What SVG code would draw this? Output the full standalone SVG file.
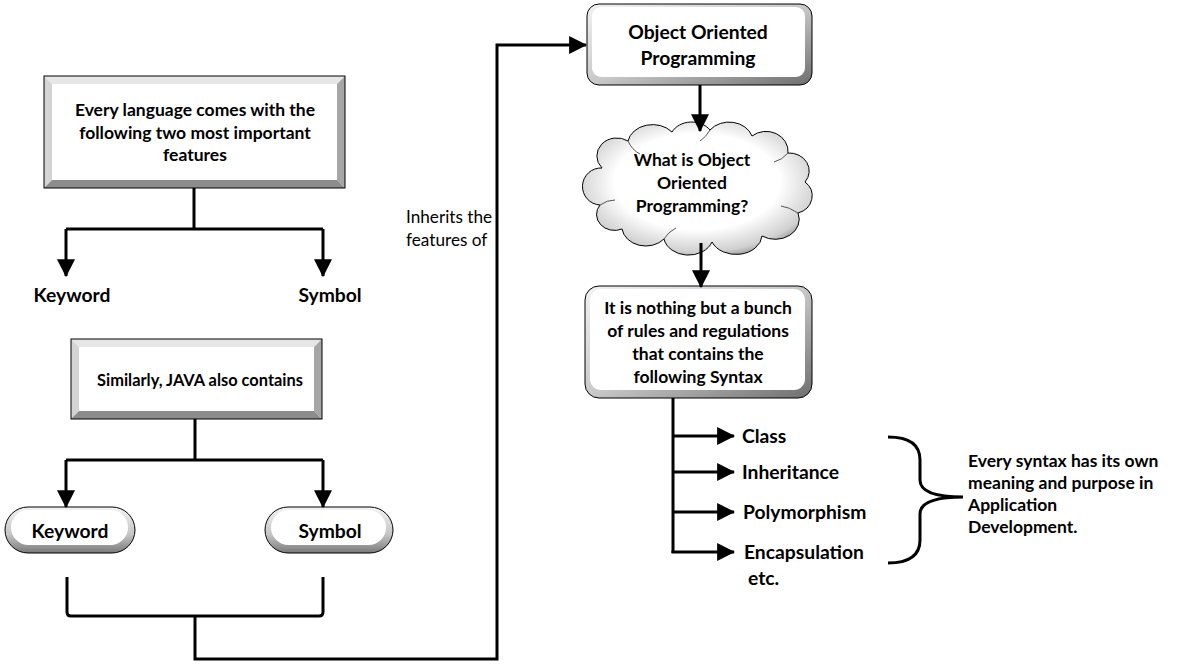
<svg xmlns="http://www.w3.org/2000/svg" width="1178" height="671" viewBox="0 0 1178 671">
<defs>
<style>
.t{font-family:Lato,"Liberation Sans",sans-serif;font-weight:bold;font-size:17.5px;fill:#000}
.l{font-size:19.3px}
.c{text-anchor:middle}
.n{font-family:Lato,"Liberation Sans",sans-serif;font-size:17.2px;fill:#000}
.ln{fill:none;stroke:#000;stroke-width:3;stroke-linejoin:miter}
.edge{fill:none;stroke:#000;stroke-width:1}
</style>
<marker id="ah" markerUnits="userSpaceOnUse" markerWidth="18" markerHeight="18" viewBox="0 0 16 16" refX="15" refY="8" orient="auto">
<path d="M0,0 L16,8 L0,16 Z" fill="#000"/>
</marker>
<linearGradient id="rim" x1="0" y1="0" x2="1" y2="1">
<stop offset="0" stop-color="#f2f2f2"/>
<stop offset="0.5" stop-color="#c8c8c8"/>
<stop offset="1" stop-color="#6e6e6e"/>
</linearGradient>
<linearGradient id="pill" x1="0" y1="0" x2="0" y2="1">
<stop offset="0" stop-color="#f4f4f4"/>
<stop offset="0.6" stop-color="#c4c4c4"/>
<stop offset="1" stop-color="#7a7a7a"/>
</linearGradient>
<radialGradient id="cloudg" cx="0.5" cy="0.45" r="0.6">
<stop offset="0.6" stop-color="#ffffff"/>
<stop offset="0.88" stop-color="#d0d0d0"/>
<stop offset="1" stop-color="#8a8a8a"/>
</radialGradient>
</defs>
<rect width="1178" height="671" fill="#fff"/>

<g id="box-features">
<rect x="44" y="76" width="301" height="112" fill="#fff"/>
<polygon points="44,76 345,76 337,84 52,84" fill="#e6e6e6"/>
<polygon points="44,76 52,84 52,180 44,188" fill="#d4d4d4"/>
<polygon points="345,76 345,188 337,180 337,84" fill="#a6a6a6"/>
<polygon points="44,188 345,188 337,180 52,180" fill="#8c8c8c"/>
<rect x="44" y="76" width="301" height="112" class="edge"/>
<text class="t c" x="195" y="116">Every language comes with the</text>
<text class="t c" x="195" y="139">following two most important</text>
<text class="t c" x="195" y="161">features</text>
</g>

<g id="label-keyword1"><text class="t l c" x="72" y="302">Keyword</text></g>
<g id="label-symbol1"><text class="t l c" x="330" y="302">Symbol</text></g>

<g id="box-java">
<rect x="71" y="339" width="251" height="80" fill="#fff"/>
<polygon points="71,339 322,339 314,347 79,347" fill="#e6e6e6"/>
<polygon points="71,339 79,347 79,411 71,419" fill="#d4d4d4"/>
<polygon points="322,339 322,419 314,411 314,347" fill="#a6a6a6"/>
<polygon points="71,419 322,419 314,411 79,411" fill="#8c8c8c"/>
<rect x="71" y="339" width="251" height="80" class="edge"/>
<text class="t c" x="200" y="386" style="font-size:16.4px">Similarly, JAVA also contains</text>
</g>

<g id="pill-keyword">
<rect x="5" y="507" width="130" height="46" rx="23" fill="url(#pill)" stroke="#000" stroke-width="1"/>
<rect x="11" y="510" width="117" height="35" rx="17.5" fill="#fff"/>
<text class="t l c" x="70" y="538">Keyword</text>
</g>
<g id="pill-symbol">
<rect x="265" y="507" width="128" height="46" rx="23" fill="url(#pill)" stroke="#000" stroke-width="1"/>
<rect x="271" y="510" width="115" height="35" rx="17.5" fill="#fff"/>
<text class="t l c" x="330" y="538">Symbol</text>
</g>

<g id="label-inherits">
<text class="n" x="406" y="223">Inherits the</text>
<text class="n" x="406" y="246">features of</text>
</g>

<g id="box-oop">
<rect x="587" y="4" width="225" height="81" rx="12" fill="url(#rim)" stroke="#000" stroke-width="1"/>
<rect x="592" y="7" width="213" height="70" rx="9" fill="#fff"/>
<text class="t l c" x="698" y="39">Object Oriented</text>
<text class="t l c" x="698" y="65">Programming</text>
</g>

<g id="cloud-what">
<path d="M602,168 A20,18 0 0 1 628,141 A25,20 0 0 1 672,132 A22,18 0 0 1 710,130 A24,20 0 0 1 752,136 A22,20 0 0 1 788,153 A20,18 0 0 1 805,182 A20,18 0 0 1 798,213 A24,20 0 0 1 762,236 A26,20 0 0 1 712,242 A25,20 0 0 1 664,239 A24,20 0 0 1 622,229 A18,16 0 0 1 600,205 A16,16 0 0 1 602,168 Z" fill="url(#cloudg)" stroke="#000" stroke-width="1"/>
<path d="M628,141 Q632,150 640,154 M710,130 Q706,137 700,141 M788,153 Q782,160 774,162 M798,213 Q789,207 781,206 M664,239 Q668,232 676,228 M600,205 Q607,200 615,200" fill="none" stroke="#555" stroke-width="1"/>
<text class="t c" x="692" y="166">What is Object</text>
<text class="t c" x="692" y="189">Oriented</text>
<text class="t c" x="692" y="212">Programming?</text>
</g>

<g id="box-rules">
<rect x="585" y="286" width="227" height="112" rx="14" fill="url(#rim)" stroke="#000" stroke-width="1"/>
<rect x="590" y="289" width="215" height="101" rx="11" fill="#fff"/>
<text class="t c" x="698" y="314">It is nothing but a bunch</text>
<text class="t c" x="698" y="337">of rules and regulations</text>
<text class="t c" x="698" y="360">that contains the</text>
<text class="t c" x="698" y="383">following Syntax</text>
</g>

<g id="label-class"><text class="t l" x="742" y="443">Class</text></g>
<g id="label-inheritance"><text class="t l" x="742" y="479">Inheritance</text></g>
<g id="label-polymorphism"><text class="t l" x="743" y="519">Polymorphism</text></g>
<g id="label-encapsulation">
<text class="t l" x="744" y="559">Encapsulation</text>
<text class="t l" x="748" y="585">etc.</text>
</g>

<g id="note-syntax">
<path d="M888,437 Q920,437 920,460 L920,480 Q920,497 963,497 Q920,497 920,514 L920,540 Q920,563 888,563" fill="none" stroke="#000" stroke-width="3"/>
<text class="t" x="968" y="467">Every syntax has its own</text>
<text class="t" x="968" y="489">meaning and purpose in</text>
<text class="t" x="968" y="511">Application</text>
<text class="t" x="968" y="533">Development.</text>
</g>

<g id="connectors">
<path class="ln" d="M194,188 V229 M66,229 H323"/>
<path class="ln" d="M66,229 V276" marker-end="url(#ah)"/>
<path class="ln" d="M323,229 V276" marker-end="url(#ah)"/>
<path class="ln" d="M195,419 V460 M66,460 H323"/>
<path class="ln" d="M66,460 V507" marker-end="url(#ah)"/>
<path class="ln" d="M323,460 V507" marker-end="url(#ah)"/>
<path class="ln" d="M67,577 V612 Q67,616 71,616 H319 Q323,616 323,612 V577"/>
<path class="ln" d="M195,616 V659 H497 V45 H586" marker-end="url(#ah)"/>
<path class="ln" d="M700,85 V131" marker-end="url(#ah)"/>
<path class="ln" d="M701,243 V287" marker-end="url(#ah)"/>
<path class="ln" d="M673,398 V553"/>
<path class="ln" d="M673,436 H734" marker-end="url(#ah)"/>
<path class="ln" d="M673,472 H734" marker-end="url(#ah)"/>
<path class="ln" d="M673,512 H734" marker-end="url(#ah)"/>
<path class="ln" d="M671.5,552 H734" marker-end="url(#ah)"/>
</g>
</svg>
